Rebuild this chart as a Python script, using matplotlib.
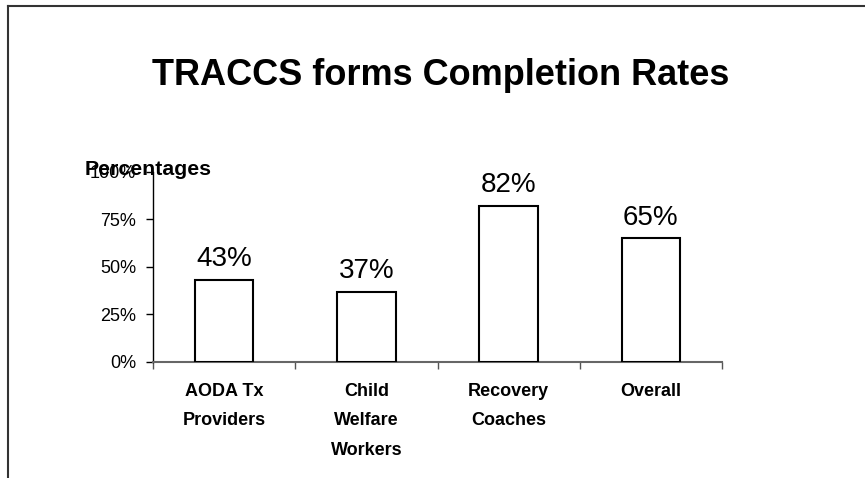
import matplotlib

matplotlib.use("Agg")
import matplotlib.pyplot as plt
from matplotlib.lines import Line2D
import numpy as np

# ── Data ───────────────────────────────────────────────────────────────
categories = ["AODA Tx\nProviders", "Child\nWelfare\nWorkers", "Recovery\nCoaches", "Overall"]
rates = [0.43, 0.37, 0.82, 0.65]
yticks = [0.0, 0.25, 0.50, 0.75, 1.0]
ytick_labels = ["0%", "25%", "50%", "75%", "100%"]

plt.rcParams["font.family"] = ["Liberation Sans", "DejaVu Sans"]

fig = plt.figure(figsize=(8.65, 4.78), dpi=100)
ax = fig.add_axes([0.1769, 0.2427, 0.6578, 0.3975])

x = np.arange(len(categories))
ax.bar(x, rates, width=0.41, color="white", edgecolor="black", linewidth=1.5, zorder=3)

# value labels above the bars
for xi, v in zip(x, rates):
    ax.annotate(f"{v:.0%}", (xi, v), xytext=(0, 10), textcoords="offset points",
                ha="center", va="baseline", fontsize=20)

ax.set_xlim(-0.5, len(categories) - 0.5)
ax.set_ylim(0, 1.0)
ax.set_yticks(yticks)
ax.set_yticklabels(ytick_labels, fontsize=13)
ax.tick_params(axis="y", direction="out", length=5, width=1, pad=7)

ax.set_xticks(x)
ax.set_xticklabels(categories, fontsize=13, fontweight="bold", linespacing=1.95, va="top")
ax.tick_params(axis="x", which="major", length=0, pad=15)
ax.set_xticks(np.arange(-0.5, len(categories), 1.0), minor=True)
ax.tick_params(axis="x", which="minor", direction="out", length=5, width=1, color="#555555")

for side in ("top", "right"):
    ax.spines[side].set_visible(False)
ax.spines["left"].set_linewidth(1.0)
ax.spines["bottom"].set_color("#666666")
ax.spines["bottom"].set_linewidth(1.5)

fig.text(0.509, 0.842, "TRACCS forms Completion Rates", ha="center", va="center",
         fontsize=26, fontweight="bold")
fig.text(0.098, 0.645, "Percentages", ha="left", va="center", fontsize=15.3, fontweight="bold")

# slide frame (top and left edges)
fig.add_artist(Line2D([0.0093, 0.0093], [0.0, 0.9875], transform=fig.transFigure,
                      color="#333333", linewidth=1.5))
fig.add_artist(Line2D([0.0093, 1.0], [0.9875, 0.9875], transform=fig.transFigure,
                      color="#333333", linewidth=1.5))

fig.savefig("out.png", dpi=100)
